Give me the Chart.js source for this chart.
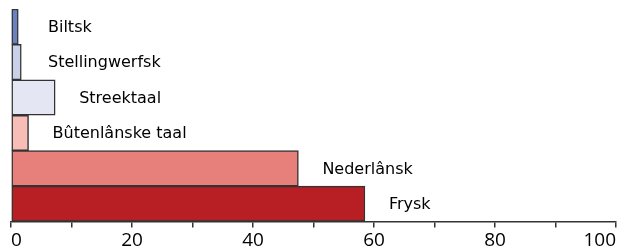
<!DOCTYPE html>
<html>
<head>
<meta charset="utf-8">
<script src="https://cdn.jsdelivr.net/npm/chart.js@4"></script>
<style>
  html, body { margin: 0; padding: 0; background: #fff; overflow: hidden; }
  #wrap { position: relative; width: 625px; height: 251px; }
</style>
</head>
<body>
<div id="wrap"><canvas id="c" width="625" height="251"></canvas></div>
<script>
const categories = ["Biltsk", "Stellingwerfsk", "Streektaal", "Bûtenlânske taal", "Nederlânsk", "Frysk"];
const values = [1.2, 1.7, 7.3, 2.9, 47.5, 58.5];
const barColors = ["#6b82c0", "#c8d1e8", "#e4e7f3", "#f9bdb7", "#e77f7b", "#b81f25"];
const xTicks = [0, 20, 40, 60, 80, 100];

const labelPlugin = {
  id: 'barLabels',
  afterDatasetsDraw(chart) {
    const ctx = chart.ctx;
    const meta = chart.getDatasetMeta(0);
    const xs = chart.scales.x;
    const minX = xs.getPixelForValue(0) + 37;
    ctx.save();
    ctx.font = '16px "DejaVu Sans"';
    ctx.fillStyle = '#000';
    ctx.textAlign = 'left';
    ctx.textBaseline = 'middle';
    meta.data.forEach((bar, i) => {
      const x = Math.max(bar.x + 24, minX);
      ctx.fillText(categories[i], x, bar.y + 1);
    });
    ctx.restore();
  }
};

new Chart(document.getElementById('c'), {
  type: 'bar',
  data: {
    labels: categories,
    datasets: [{
      data: values,
      backgroundColor: barColors,
      borderColor: '#333333',
      borderWidth: 1.5,
      borderSkipped: false,
      categoryPercentage: 1,
      barPercentage: 1
    }]
  },
  options: {
    indexAxis: 'y',
    responsive: false,
    animation: false,
    devicePixelRatio: 1,
    layout: { padding: { top: 9, left: 11, right: 9, bottom: 0 } },
    plugins: { legend: { display: false }, tooltip: { enabled: false } },
    scales: {
      x: {
        type: 'linear',
        min: 0,
        max: 100,
        afterFit(scale) { scale.paddingLeft = 0; scale.paddingRight = 0; scale.height = 29.5; },
        afterBuildTicks(scale) {
          const t = [];
          for (let v = 0; v <= 100; v += 10) t.push({ value: v });
          scale.ticks = t;
        },
        grid: { drawOnChartArea: false, drawTicks: true, tickLength: 6, color: '#333', lineWidth: 1.5 },
        border: { display: true, color: '#333', width: 1.5 },
        ticks: {
          autoSkip: false,
          maxRotation: 0,
          align: 'inner',
          padding: 2,
          color: '#000',
          font: { family: '"Open Sans"', size: 19 },
          callback: (v) => xTicks.includes(v) ? String(v) : ''
        }
      },
      y: {
        display: false
      }
    }
  },
  plugins: [labelPlugin]
});
</script>
</body>
</html>
